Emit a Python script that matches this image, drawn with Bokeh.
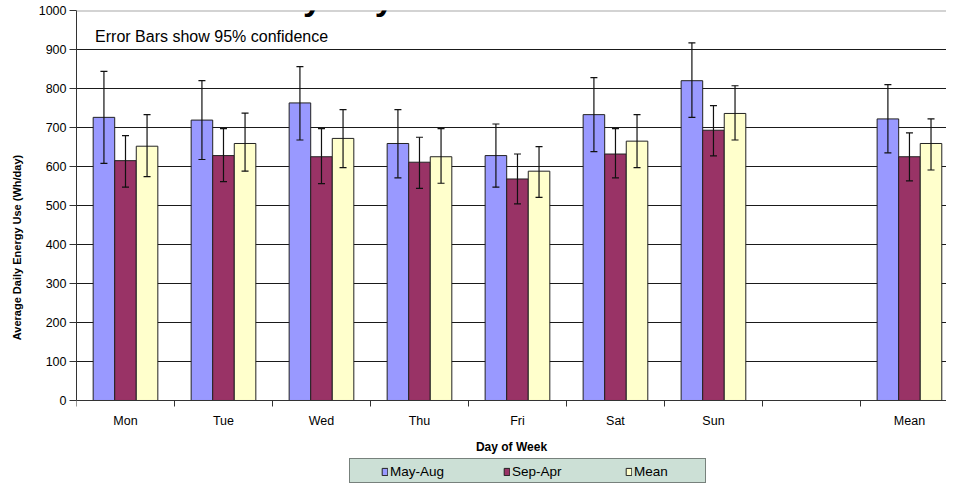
from bokeh.plotting import figure
from bokeh.models import (Range1d, FixedTicker, Whisker, TeeHead, ColumnDataSource,
                          Legend, LegendItem, Label, Span)
from bokeh.embed import file_html
from bokeh.resources import INLINE

# ---- data ----
days = ["Mon", "Tue", "Wed", "Thu", "Fri", "Sat", "Sun", "", "Mean"]
may_aug    = [726, 719, 763, 659, 628, 733, 820, None, 722]
may_aug_lo = [608, 618, 668, 571, 547, 638, 726, None, 635]
may_aug_hi = [844, 820, 856, 746, 709, 828, 917, None, 810]
sep_apr    = [615, 628, 625, 611, 568, 632, 693, None, 625]
sep_apr_lo = [547, 561, 556, 544, 504, 571, 627, None, 563]
sep_apr_hi = [679, 697, 697, 675, 632, 697, 756, None, 686]
mean_all   = [652, 659, 672, 625, 588, 665, 736, None, 659]
mean_lo    = [574, 588, 597, 557, 521, 597, 668, None, 591]
mean_hi    = [733, 737, 746, 697, 651, 733, 807, None, 722]
y_ticks = [0, 100, 200, 300, 400, 500, 600, 700, 800, 900, 1000]

series = [
    ("May-Aug", may_aug, may_aug_lo, may_aug_hi, "#9999FF", -0.22),
    ("Sep-Apr", sep_apr, sep_apr_lo, sep_apr_hi, "#993366", 0.0),
    ("Mean", mean_all, mean_lo, mean_hi, "#FFFFCC", 0.22),
]

FONT = "Liberation Sans"

# frame runs from the top line down to the canvas bottom; the x axis sits at y = 0
p = figure(width=946, height=484, output_backend="svg", toolbar_location=None,
           x_range=Range1d(0, 8.878), y_range=Range1d(-215.4, 1000),
           min_border_left=76, min_border_right=0, min_border_top=10, min_border_bottom=0)
p.outline_line_color = None
p.background_fill_color = "white"
p.border_fill_color = "white"

# grid
p.xgrid.visible = False
p.ygrid.ticker = FixedTicker(ticks=y_ticks[1:-1])
p.ygrid.grid_line_color = "#1a1a1a"
p.ygrid.grid_line_width = 1
p.add_layout(Span(location=y_ticks[-1], dimension="width", line_color="#a8a8a8", line_width=2))

# bars + error bars
renderers = []
for name, vals, lo, hi, color, off in series:
    idx = [i for i, v in enumerate(vals) if v is not None]
    src = ColumnDataSource(dict(
        x=[i + 0.5 + off for i in idx],
        top=[vals[i] for i in idx],
        lo=[lo[i] for i in idx],
        hi=[hi[i] for i in idx],
    ))
    r = p.vbar(x="x", top="top", bottom=0, width=0.22, source=src,
               fill_color=color, line_color="#222222", line_width=1)
    renderers.append((name, r))
    w = Whisker(base="x", lower="lo", upper="hi", source=src,
                line_color="#111111", line_width=1.2,
                upper_head=TeeHead(size=7, line_color="#111111", line_width=1.2),
                lower_head=TeeHead(size=7, line_color="#111111", line_width=1.2))
    w.level = "annotation"
    p.add_layout(w)

# x axis: labels at slot centres, ticks at slot boundaries
centers = [i + 0.5 for i in range(len(days))]
bounds = [float(i) for i in range(len(days) + 1)]
xa = p.xaxis[0]
xa.fixed_location = 0
xa.ticker = FixedTicker(ticks=centers, minor_ticks=bounds)
xa.major_label_overrides = {c: d for c, d in zip(centers, days)}
xa.major_tick_in = 0
xa.major_tick_out = 0
xa.minor_tick_in = 0
xa.minor_tick_out = 6
xa.minor_tick_line_color = "#333333"
xa.axis_line_color = "#333333"
xa.major_label_text_font = FONT
xa.major_label_text_font_size = "12.5px"
xa.major_label_text_color = "black"
xa.major_label_standoff = 8
xa.axis_label = "Day of Week"
xa.axis_label_text_font = FONT
xa.axis_label_text_font_size = "12px"
xa.axis_label_text_font_style = "bold"
xa.axis_label_text_color = "black"
xa.axis_label_standoff = 8

ya = p.yaxis[0]
ya.ticker = FixedTicker(ticks=y_ticks)
ya.bounds = (y_ticks[0], y_ticks[-1])
ya.minor_tick_line_color = None
ya.major_tick_in = 0
ya.major_tick_out = 7
ya.major_tick_line_color = "#333333"
ya.axis_line_color = "#333333"
ya.major_label_text_font = FONT
ya.major_label_text_font_size = "12.5px"
ya.major_label_text_color = "black"
ya.major_label_standoff = 3
ya.axis_label = "Average Daily Energy Use (Wh/day)"
ya.axis_label_text_font = FONT
ya.axis_label_text_font_size = "11px"
ya.axis_label_text_font_style = "bold"
ya.axis_label_text_color = "black"
ya.axis_label_standoff = 13

# texts
p.add_layout(Label(x=0.19, y=956, text="Error Bars show 95% confidence",
                   text_font=FONT, text_font_size="16px", text_color="black",
                   text_baseline="top"))
p.add_layout(Label(x=4.4, y=1080, text="by Day of Week and Season",
                   text_font=FONT, text_font_size="34px", text_font_style="bold",
                   text_color="black", text_align="center", text_baseline="top"))
p.add_layout(Label(x=7.21, y=1068, text="Dishwashers",
                   text_font=FONT, text_font_size="26.5px", text_font_style="bold",
                   text_color="black", text_align="left", text_baseline="top"))

# legend: a framed box, with the items laid over it
box_r = p.rect(x=[], y=[], width=1, height=1, fill_alpha=0, line_alpha=0)
legend_box = Legend(items=[LegendItem(label=" ", renderers=[box_r])],
                    orientation="horizontal", location=(273, 1),
                    background_fill_color="#CCE0D6", background_fill_alpha=1,
                    border_line_color="#222222", border_line_width=1.5,
                    label_text_font_size="10px",
                    glyph_width=350, glyph_height=23, label_standoff=0, label_width=5,
                    label_height=0, spacing=0, padding=0, margin=0)
p.add_layout(legend_box)

legend = Legend(items=[LegendItem(label=n, renderers=[r]) for n, r in renderers],
                orientation="horizontal", location=(301, 1),
                background_fill_alpha=0, border_line_alpha=0,
                label_text_font=FONT, label_text_font_size="13.5px", label_text_color="black",
                glyph_width=7, glyph_height=9, label_standoff=2, label_width=69,
                label_height=15, spacing=44, padding=4, margin=0)
p.add_layout(legend)

open("out.html", "w").write(file_html(p, INLINE))
